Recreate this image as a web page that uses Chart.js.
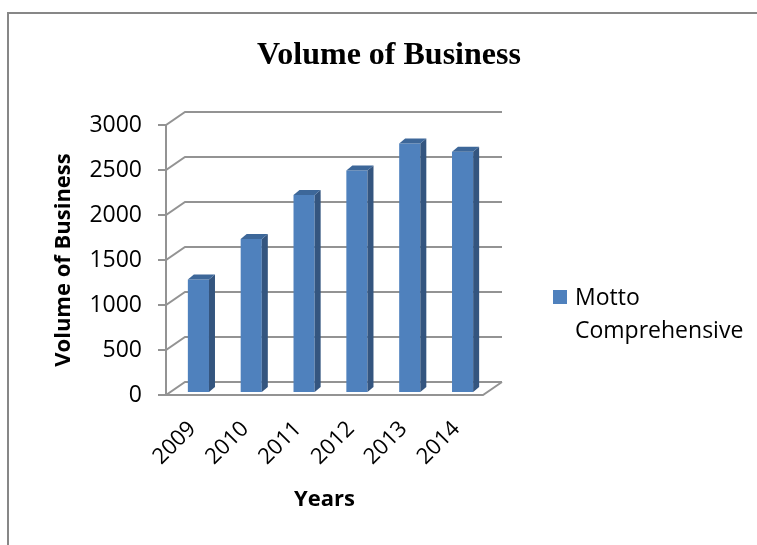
<!DOCTYPE html>
<html>
<head>
<meta charset="utf-8">
<script src="https://cdn.jsdelivr.net/npm/chart.js@4.4.0/dist/chart.umd.min.js"></script>
<style>
  html, body { margin: 0; padding: 0; background: #fff; }
</style>
</head>
<body>
<canvas id="chart" width="757" height="545"></canvas>
<script>
// Daten
const categories = ['2009', '2010', '2011', '2012', '2013', '2014'];
const seriesName = 'Motto Comprehensive';
const volumeValues = [1250, 1700, 2190, 2460, 2760, 2670];
const yMin = 0;
const yMax = 3000;
const yStep = 500;
const chartTitle = 'Volume of Business';
const yAxisTitle = 'Volume of Business';
const xAxisTitle = 'Years';

// 3D-Optik
const wallDX = 19, wallDY = -13;      // Versatz der Rückwand
const barShiftX = 6, barShiftY = -3;  // Balken sitzen in der Mitte der Tiefe
const barDX = 6, barDY = -5;          // Tiefe der Balken
const frontColor = '#4F81BD';
const sideColor = '#34557F';
const topColor = '#3D6799';
const gridColor = '#939393';
const fontFamily = '"Open Sans", sans-serif';

const pseudo3d = {
  id: 'pseudo3d',
  beforeDraw(chart) {
    const ctx = chart.ctx;
    ctx.save();
    ctx.fillStyle = '#fff';
    ctx.fillRect(0, 0, chart.width, chart.height);
    // Rahmen
    ctx.fillStyle = '#878787';
    ctx.fillRect(7, 12, chart.width - 7, 2);
    ctx.fillRect(7, 12, 2, chart.height - 12);
    ctx.restore();
  },
  beforeDatasetsDraw(chart) {
    const ctx = chart.ctx;
    const a = chart.chartArea;
    const y = chart.scales.y;
    ctx.save();
    ctx.strokeStyle = gridColor;
    ctx.lineWidth = 2;
    ctx.beginPath();
    y.ticks.forEach(t => {
      const py = y.getPixelForValue(t.value);
      ctx.moveTo(a.left - 8, py);
      ctx.lineTo(a.left, py);
      ctx.lineTo(a.left + wallDX, py + wallDY);
      ctx.lineTo(a.right + wallDX, py + wallDY);
    });
    ctx.moveTo(a.left, a.top);
    ctx.lineTo(a.left, a.bottom);
    ctx.lineTo(a.right, a.bottom);
    ctx.lineTo(a.right + wallDX, a.bottom + wallDY);
    ctx.stroke();
    ctx.restore();
    ctx.save();
    ctx.translate(barShiftX, barShiftY);
  },
  afterDatasetsDraw(chart) {
    const ctx = chart.ctx;
    chart.getDatasetMeta(0).data.forEach(bar => {
      const p = bar.getProps(['x', 'y', 'base', 'width'], true);
      const l = p.x - p.width / 2, r = p.x + p.width / 2;
      // Seitenfläche
      ctx.fillStyle = sideColor;
      ctx.beginPath();
      ctx.moveTo(r, p.y);
      ctx.lineTo(r + barDX, p.y + barDY);
      ctx.lineTo(r + barDX, p.base + barDY);
      ctx.lineTo(r, p.base);
      ctx.closePath();
      ctx.fill();
      // Deckfläche
      ctx.fillStyle = topColor;
      ctx.beginPath();
      ctx.moveTo(l, p.y);
      ctx.lineTo(r, p.y);
      ctx.lineTo(r + barDX, p.y + barDY);
      ctx.lineTo(l + barDX, p.y + barDY);
      ctx.closePath();
      ctx.fill();
    });
    ctx.restore();
  },
  afterDraw(chart) {
    const ctx = chart.ctx;
    ctx.save();
    // Titel
    ctx.fillStyle = '#000';
    ctx.font = 'bold 32px "Liberation Serif", serif';
    ctx.textAlign = 'center';
    ctx.textBaseline = 'alphabetic';
    ctx.fillText(chartTitle, 389, 64);
    // Legende (umgebrochen wie im Original)
    ctx.fillStyle = frontColor;
    ctx.fillRect(553, 290, 14, 14);
    ctx.fillStyle = '#000';
    ctx.font = '23px ' + fontFamily;
    ctx.textAlign = 'left';
    const words = chart.data.datasets[0].label.split(' ');
    words.forEach((w, i) => ctx.fillText(w, 575, 305 + i * 33));
    ctx.restore();
  }
};

new Chart(document.getElementById('chart').getContext('2d'), {
  type: 'bar',
  data: {
    labels: categories,
    datasets: [{
      label: seriesName,
      data: volumeValues,
      backgroundColor: frontColor,
      borderWidth: 0,
      barPercentage: 0.5,
      categoryPercentage: 0.8
    }]
  },
  options: {
    responsive: false,
    animation: false,
    layout: { padding: { left: 40, top: 125, right: 274, bottom: 20 } },
    plugins: {
      legend: { display: false },
      title: { display: false },
      tooltip: { enabled: false }
    },
    scales: {
      x: {
        grid: { display: false, drawTicks: false },
        border: { display: false },
        ticks: {
          color: '#000',
          font: { family: fontFamily, size: 22 },
          minRotation: 45,
          maxRotation: 45,
          autoSkip: false,
          padding: 21
        },
        title: {
          display: true,
          text: xAxisTitle,
          color: '#000',
          font: { family: fontFamily, size: 22, weight: 'bold' },
          padding: { top: 0, bottom: 12 }
        },
        afterFit: s => { s.height = 130; }
      },
      y: {
        min: yMin,
        max: yMax,
        grid: { display: false, drawTicks: false },
        border: { display: false },
        ticks: {
          stepSize: yStep,
          color: '#000',
          font: { family: fontFamily, size: 23 },
          padding: 24,
          callback: v => String(v)
        },
        title: {
          display: true,
          text: yAxisTitle,
          color: '#000',
          font: { family: fontFamily, size: 22, weight: 'bold' },
          padding: { top: 11, bottom: 0 }
        },
        afterFit: s => { s.width = 126; }
      }
    }
  },
  plugins: [pseudo3d]
});
</script>
</body>
</html>
